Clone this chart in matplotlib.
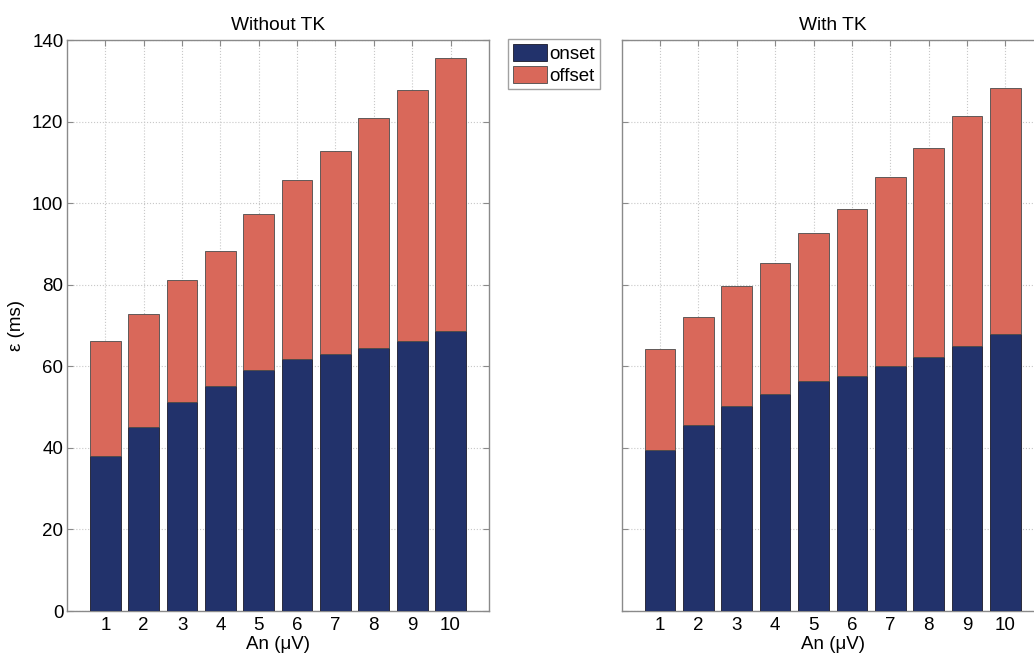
import matplotlib
matplotlib.use('Agg')
import matplotlib.pyplot as plt
import numpy as np

plt.rcParams['font.family'] = ['Liberation Sans', 'DejaVu Sans']

# amplitude levels on the x axis
amplitude = np.arange(1, 11)

# detection error (ms), stacked onset + offset
onset_no_tk = [38.1, 45.2, 51.2, 55.2, 59.2, 61.8, 63.1, 64.6, 66.3, 68.7]
offset_no_tk = [28.1, 27.6, 29.9, 33.1, 38.2, 43.9, 49.7, 56.3, 61.4, 66.8]
onset_tk = [39.6, 45.7, 50.3, 53.1, 56.5, 57.6, 60.1, 62.3, 65.0, 68.0]
offset_tk = [24.6, 26.4, 29.3, 32.3, 36.1, 41.0, 46.3, 51.3, 56.4, 60.3]

c_on = '#22326b'
c_off = '#d9685a'
spine_col = '#8a8a8a'

fig = plt.figure(figsize=(10.34, 6.57), dpi=100)
ax1 = fig.add_axes([0.0648, 0.070, 0.408, 0.869])
ax2 = fig.add_axes([0.6013, 0.070, 0.408, 0.869])


def draw(ax, onset, offset, title, ylab):
    b1 = ax.bar(amplitude, onset, width=0.8, color=c_on, edgecolor='#1a1a2a',
                linewidth=0.6, zorder=3, label='onset')
    b2 = ax.bar(amplitude, offset, bottom=onset, width=0.8, color=c_off,
                edgecolor='#4a4a4a', linewidth=0.6, zorder=3, label='offset')
    ax.set_xlim(0, 11)
    ax.set_ylim(0, 140)
    ax.set_xticks(amplitude)
    ax.set_yticks(np.arange(0, 141, 20))
    ax.grid(True, linestyle=':', color='#c8c8c8', linewidth=0.8, zorder=0)
    ax.tick_params(direction='in', length=4, color=spine_col, labelsize=13.5,
                   top=True, right=True, pad=2.6)
    ax.tick_params(axis='x', pad=4.5)
    for s in ax.spines.values():
        s.set_color(spine_col)
        s.set_linewidth(1.0)
    ax.set_title(title, fontsize=13.8, pad=7)
    ax.set_xlabel('An (\u03bcV)', fontsize=13.5, labelpad=1)
    if ylab:
        ax.set_ylabel('\u03b5 (ms)', fontsize=13.5, labelpad=5)
    else:
        ax.set_yticklabels([])
    return b1, b2


h1, h2 = draw(ax1, onset_no_tk, offset_no_tk, 'Without TK', True)
draw(ax2, onset_tk, offset_tk, 'With TK', False)

leg = fig.legend([h1, h2], ['onset', 'offset'], loc='upper left',
                 bbox_to_anchor=(0.4915, 0.94), fontsize=13.5, frameon=True,
                 fancybox=False, handlelength=1.8, handleheight=1.0,
                 handletextpad=0.15, borderpad=0.25, labelspacing=0.15,
                 borderaxespad=0)
leg.get_frame().set_edgecolor(spine_col)
leg.get_frame().set_linewidth(1.0)

fig.savefig('out.png', dpi=100)
